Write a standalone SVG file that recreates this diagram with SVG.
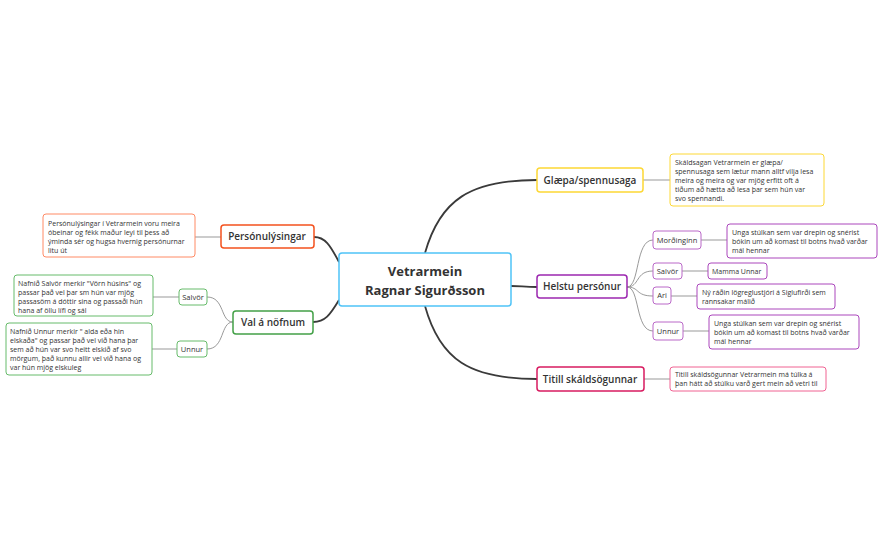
<svg xmlns="http://www.w3.org/2000/svg" width="882" height="546" viewBox="0 0 882 546">
<style>
text{font-family:"Open Sans","Liberation Sans",sans-serif;fill:#333}
.m{font-size:10px;font-weight:600;text-anchor:middle}
.s{font-size:7.5px;text-anchor:middle}
.d{font-size:7px}
rect{fill:#fff}
.main{stroke:#3a3a3a;stroke-width:1.8;fill:none}
.thin{stroke:#999;stroke-width:1;fill:none}
</style>
<rect x="0" y="0" width="882" height="546" style="fill:#fff"/>
<g id="connectors">
<path class="main" d="M425,253 C440,200 470,180 537,180"/>
<path class="main" d="M511,286 C520,286 525,287 537,287"/>
<path class="main" d="M425,306 C440,360 470,379 537,379"/>
<path class="main" d="M339,262 C330,245 325,237 314,237"/>
<path class="main" d="M339,300 C330,315 325,322 313,322"/>
<path class="thin" d="M643,180 L670,180"/>
<path class="thin" d="M644,379 L670,379"/>
<path class="thin" d="M221,237 L195,237"/>
<path class="thin" d="M627,287 C640,287 635,240 653,240"/>
<path class="thin" d="M627,287 C640,287 635,271 653,271"/>
<path class="thin" d="M627,287 C640,287 635,296 653,296"/>
<path class="thin" d="M627,287 C640,287 635,331 653,331"/>
<path class="thin" d="M701,240 L727,240"/>
<path class="thin" d="M682,271 L708,271"/>
<path class="thin" d="M671,296 L697,296"/>
<path class="thin" d="M683,331 L709,331"/>
<path class="thin" d="M233,322 C220,322 225,297 207,297"/>
<path class="thin" d="M233,322 C220,322 225,349 207,349"/>
<path class="thin" d="M179,297 L153,297"/>
<path class="thin" d="M177,349 L152,349"/>
</g>
<g id="center"><rect x="339" y="253" width="172" height="53" rx="3" style="stroke:#4fc3f7;stroke-width:1.5"/>
<text class="m" x="425" y="276" style="font-size:13px;font-weight:700">Vetrarmein</text>
<text class="m" x="425" y="295" style="font-size:13px;font-weight:700">Ragnar Sigurðsson</text></g>
<g id="personu"><rect x="221" y="225" width="93" height="23" rx="3" style="stroke:#f4511e;stroke-width:1.5"/><text class="m" x="267" y="240">Persónulýsingar</text></g>
<g id="personu-d"><rect x="43" y="214" width="152" height="43" rx="3" style="stroke:#ff8a65;stroke-width:1"/>
<text class="d" x="48" y="226">Persónulýsingar í Vetrarmein voru meira</text>
<text class="d" x="48" y="235">óbeinar og fékk maður leyi til þess að</text>
<text class="d" x="48" y="244">ýminda sér og hugsa hvernig persónurnar</text>
<text class="d" x="48" y="253">litu út</text></g>
<g id="val"><rect x="233" y="311" width="80" height="23" rx="3" style="stroke:#43a047;stroke-width:1.5"/><text class="m" x="273" y="326">Val á nöfnum</text></g>
<g id="val-salvor"><rect x="179" y="289" width="28" height="16" rx="3" style="stroke:#66bb6a;stroke-width:1"/><text class="s" x="193" y="300">Salvör</text></g>
<g id="val-unnur"><rect x="177" y="341" width="30" height="16" rx="3" style="stroke:#66bb6a;stroke-width:1"/><text class="s" x="192" y="352">Unnur</text></g>
<g id="val-salvor-d"><rect x="14" y="275" width="139" height="41" rx="3" style="stroke:#66bb6a;stroke-width:1"/>
<text class="d" x="18" y="286">Nafnið Salvör merkir "Vörn húsins" og</text>
<text class="d" x="18" y="295">passar það vel þar sm hún var mjög</text>
<text class="d" x="18" y="304">passasöm á dóttir sina og passaði hún</text>
<text class="d" x="18" y="313">hana af öllu lífi og sál</text></g>
<g id="val-unnur-d"><rect x="6" y="323" width="146" height="52" rx="3" style="stroke:#66bb6a;stroke-width:1"/>
<text class="d" x="10" y="334">Nafnið Unnur merkir " alda eða hin</text>
<text class="d" x="10" y="343">elskaða" og passar það vel við hana þar</text>
<text class="d" x="10" y="352">sem að hún var svo heitt elskið af svo</text>
<text class="d" x="10" y="361">mörgum, það kunnu allir vel við hana og</text>
<text class="d" x="10" y="370">var hún mjög elskuleg</text></g>
<g id="glaepa"><rect x="537" y="168" width="106" height="24" rx="3" style="stroke:#fdd835;stroke-width:1.5"/><text class="m" x="590" y="184">Glæpa/spennusaga</text></g>
<g id="glaepa-d"><rect x="670" y="154" width="154" height="52" rx="3" style="stroke:#fdd835;stroke-width:1"/>
<text class="d" x="675" y="165">Skáldsagan Vetrarmein er glæpa/</text>
<text class="d" x="675" y="174">spennusaga sem lætur mann alltf vilja lesa</text>
<text class="d" x="675" y="183">meira og meira og var mjög erfitt oft á</text>
<text class="d" x="675" y="192">tiðum að hætta að lesa þar sem hún var</text>
<text class="d" x="675" y="201">svo spennandi.</text></g>
<g id="helstu"><rect x="537" y="275" width="90" height="23" rx="3" style="stroke:#9c27b0;stroke-width:1.5"/><text class="m" x="582" y="290">Helstu persónur</text></g>
<g id="mord"><rect x="653" y="231" width="48" height="18" rx="3" style="stroke:#ba68c8;stroke-width:1"/><text class="s" x="677" y="243">Morðinginn</text></g>
<g id="mord-d"><rect x="727" y="224" width="150" height="34" rx="3" style="stroke:#ab47bc;stroke-width:1"/>
<text class="d" x="732" y="235">Unga stúlkan sem var drepin og snérist</text>
<text class="d" x="732" y="244">bókin um að komast til botns hvað varðar</text>
<text class="d" x="732" y="253">mál hennar</text></g>
<g id="h-salvor"><rect x="653" y="263" width="29" height="16" rx="3" style="stroke:#ba68c8;stroke-width:1"/><text class="s" x="667.5" y="274">Salvör</text></g>
<g id="h-salvor-d"><rect x="708" y="263" width="59" height="16" rx="3" style="stroke:#ab47bc;stroke-width:1"/><text class="d" x="712" y="274">Mamma Unnar</text></g>
<g id="ari"><rect x="653" y="287" width="18" height="17" rx="3" style="stroke:#ba68c8;stroke-width:1"/><text class="s" x="662" y="298">Ari</text></g>
<g id="ari-d"><rect x="697" y="284" width="138" height="25" rx="3" style="stroke:#ab47bc;stroke-width:1"/>
<text class="d" x="702" y="295">Ný ráðin lögreglustjóri á Siglufirði sem</text>
<text class="d" x="702" y="304">rannsakar málið</text></g>
<g id="h-unnur"><rect x="653" y="322" width="30" height="18" rx="3" style="stroke:#ba68c8;stroke-width:1"/><text class="s" x="668" y="334">Unnur</text></g>
<g id="h-unnur-d"><rect x="709" y="315" width="150" height="34" rx="3" style="stroke:#ab47bc;stroke-width:1"/>
<text class="d" x="714" y="326">Unga stúlkan sem var drepin og snérist</text>
<text class="d" x="714" y="335">bókin um að komast til botns hvað varðar</text>
<text class="d" x="714" y="344">mál hennar</text></g>
<g id="titill"><rect x="537" y="367" width="107" height="24" rx="3" style="stroke:#d81b60;stroke-width:1.5"/><text class="m" x="590" y="383">Titill skáldsögunnar</text></g>
<g id="titill-d"><rect x="670" y="367" width="156" height="24" rx="3" style="stroke:#f06292;stroke-width:1"/>
<text class="d" x="675" y="377">Titill skáldsögunnar Vetrarmein má túlka á</text>
<text class="d" x="675" y="386">þan hátt að stúlku varð gert mein að vetri til</text></g>
</svg>
